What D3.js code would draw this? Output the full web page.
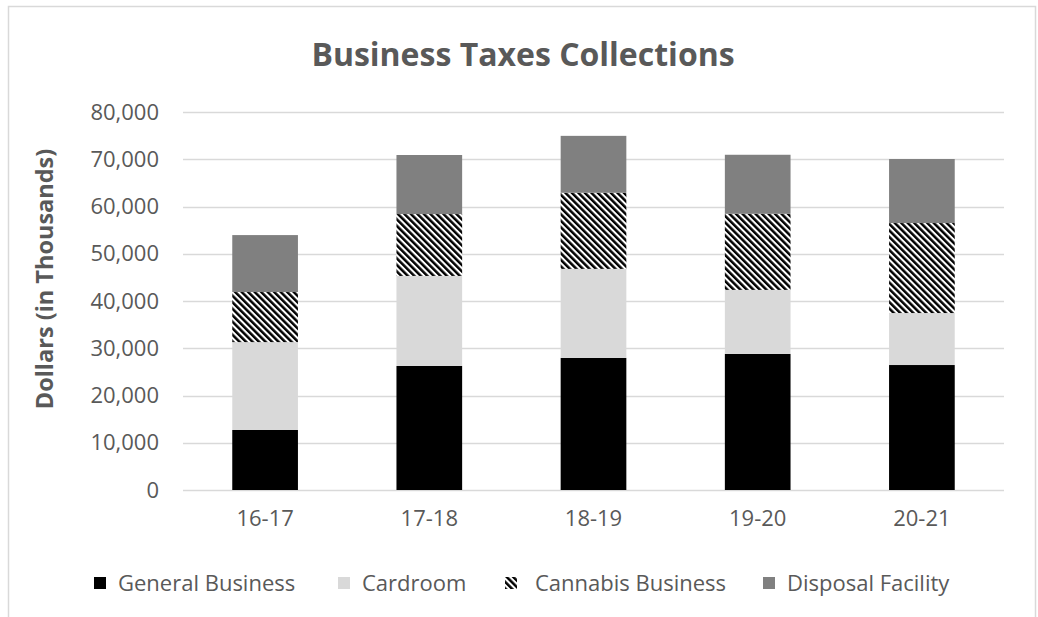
<!DOCTYPE html>
<html>
<head>
<meta charset="utf-8">
<script src="https://cdn.jsdelivr.net/npm/d3@7"></script>
<style>
  body { margin: 0; background: #fff; }
  svg { display: block; font-family: "Open Sans", sans-serif; }
</style>
</head>
<body>
<svg id="chart" width="1038" height="617"></svg>
<script>
// Chart data (dollars in thousands)
const years = ["16-17", "17-18", "18-19", "19-20", "20-21"];
const generalBusiness = [12700, 26250, 27950, 28800, 26450];
const cardroom = [18600, 19050, 18850, 13550, 11000];
const cannabisBusiness = [10600, 13100, 16100, 16100, 19050];
const disposalFacility = [12050, 12500, 12050, 12500, 13550];
const seriesNames = ["General Business", "Cardroom", "Cannabis Business", "Disposal Facility"];
const yTicks = [0, 10000, 20000, 30000, 40000, 50000, 60000, 70000, 80000];

const textColor = "#595959";
const gridColor = "#d9d9d9";

const rows = years.map((y, i) => ({
  year: y,
  "General Business": generalBusiness[i],
  "Cardroom": cardroom[i],
  "Cannabis Business": cannabisBusiness[i],
  "Disposal Facility": disposalFacility[i]
}));

const svg = d3.select("#chart");

// hatch pattern for cannabis
const defs = svg.append("defs");
defs.append("pattern")
    .attr("id", "hatch")
    .attr("patternUnits", "userSpaceOnUse")
    .attr("width", 4.6)
    .attr("height", 4.6)
    .attr("patternTransform", "rotate(-45)")
  .call(p => {
    p.append("rect").attr("width", 4.6).attr("height", 4.6).attr("fill", "#fff");
    p.append("rect").attr("width", 2.5).attr("height", 4.6).attr("fill", "#000");
  });

const fills = {
  "General Business": "#000000",
  "Cardroom": "#d9d9d9",
  "Cannabis Business": "url(#hatch)",
  "Disposal Facility": "#808080"
};

// outer border
svg.append("rect")
    .attr("x", 8.5).attr("y", 6.5)
    .attr("width", 1027).attr("height", 640)
    .attr("fill", "none")
    .attr("stroke", gridColor)
    .attr("stroke-width", 1.5);

const x = d3.scaleBand()
    .domain(years)
    .range([183, 1004])
    .paddingInner(0.6)
    .paddingOuter(0.3);

const y = d3.scaleLinear()
    .domain([0, 80000])
    .range([490, 112]);

// gridlines
svg.append("g")
  .selectAll("line")
  .data(yTicks)
  .join("line")
    .attr("x1", 183).attr("x2", 1004)
    .attr("y1", d => Math.round(y(d)) + 0.5)
    .attr("y2", d => Math.round(y(d)) + 0.5)
    .attr("stroke", gridColor)
    .attr("stroke-width", 1.5);

// y axis labels
const yAxis = svg.append("g")
    .attr("transform", "translate(183,0)")
    .call(d3.axisLeft(y).tickValues(yTicks).tickFormat(d3.format(",")).tickSize(0).tickPadding(24));
yAxis.select(".domain").remove();
yAxis.selectAll("text")
    .attr("fill", textColor)
    .style("font-size", "22px")
    .style("font-family", "'Open Sans', sans-serif");

// x axis labels
const xAxis = svg.append("g")
    .attr("transform", "translate(0,490)")
    .call(d3.axisBottom(x).tickSize(0).tickPadding(20));
xAxis.select(".domain").remove();
xAxis.selectAll("text")
    .attr("fill", textColor)
    .style("font-size", "22px")
    .style("font-family", "'Open Sans', sans-serif");

// stacked bars
const stacked = d3.stack().keys(seriesNames)(rows);

svg.append("g")
  .selectAll("g")
  .data(stacked)
  .join("g")
    .attr("fill", d => fills[d.key])
  .selectAll("rect")
  .data(d => d)
  .join("rect")
    .attr("x", d => x(d.data.year))
    .attr("width", x.bandwidth())
    .attr("y", d => y(d[1]))
    .attr("height", d => y(d[0]) - y(d[1]));

// title
svg.append("text")
    .attr("x", 523)
    .attr("y", 66)
    .attr("text-anchor", "middle")
    .attr("fill", textColor)
    .style("font-size", "32px")
    .style("font-weight", "bold")
    .text("Business Taxes Collections");

// y axis title
svg.append("text")
    .attr("transform", "translate(53,279) rotate(-90)")
    .attr("text-anchor", "middle")
    .attr("fill", textColor)
    .style("font-size", "23.5px")
    .style("font-weight", "bold")
    .text("Dollars (in Thousands)");

// legend
const legendX = [94, 338, 505, 763];
const legend = svg.append("g")
  .selectAll("g")
  .data(seriesNames)
  .join("g")
    .attr("transform", (d, i) => `translate(${legendX[i]},577)`);

legend.append("rect")
    .attr("width", 12)
    .attr("height", 12)
    .attr("fill", d => fills[d]);

legend.append("text")
    .attr("x", d => d === "Cannabis Business" ? 30 : 24)
    .attr("y", 6)
    .attr("dy", "0.35em")
    .attr("fill", textColor)
    .style("font-size", "22px")
    .text(d => d);
</script>
</body>
</html>
